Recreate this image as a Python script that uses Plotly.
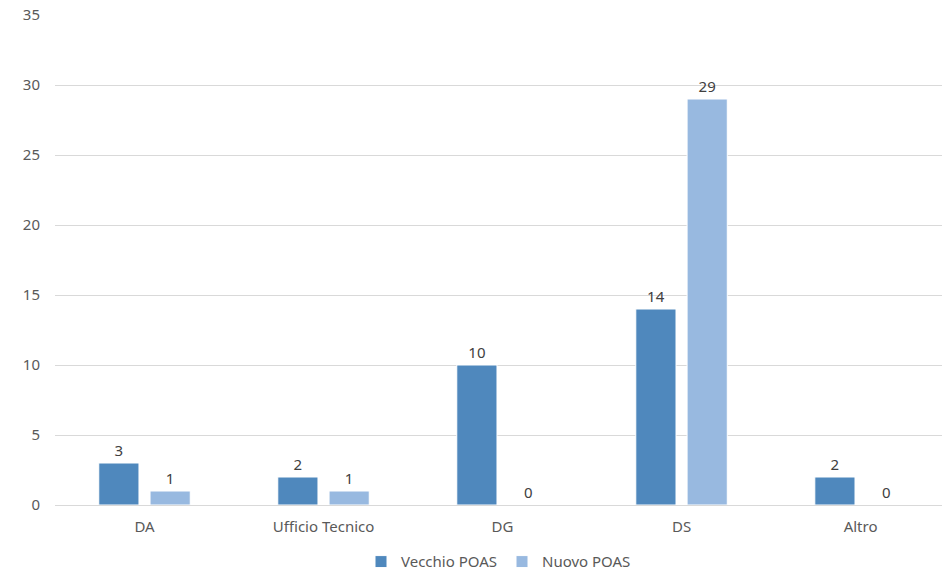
import plotly.graph_objects as go

categories = ["DA", "Ufficio Tecnico", "DG", "DS", "Altro"]
vecchio = [3, 2, 10, 14, 2]
nuovo = [1, 1, 0, 29, 0]
y_ticks = [0, 5, 10, 15, 20, 25, 30, 35]

font_family = "Noto Sans, Open Sans, Arial, sans-serif"
txt_color = "#595959"

fig = go.Figure()
fig.add_trace(go.Bar(
    x=categories, y=vecchio, name="Vecchio POAS",
    marker=dict(color="#4F88BD", line=dict(color="white", width=1)),
    text=vecchio, textposition="outside", cliponaxis=False,
    textfont=dict(size=15, color="#404040", family=font_family),
))
fig.add_trace(go.Bar(
    x=categories, y=nuovo, name="Nuovo POAS",
    marker=dict(color="#98B9E0", line=dict(color="white", width=1)),
    text=nuovo, textposition="outside", cliponaxis=False,
    textfont=dict(size=15, color="#404040", family=font_family),
))

fig.update_layout(
    width=942, height=574,
    margin=dict(l=55, r=0, t=15, b=69, autoexpand=False),
    plot_bgcolor="white", paper_bgcolor="white",
    barmode="group", bargap=0.427, bargroupgap=0.216,
    font=dict(family=font_family, size=15, color=txt_color),
    showlegend=True,
    legend=dict(orientation="h", x=0.5, xanchor="center", y=-0.116, yanchor="middle",
                font=dict(size=15, color=txt_color), itemwidth=30,
                traceorder="normal"),
    xaxis=dict(showgrid=False, showline=True, linecolor="#D9D9D9", linewidth=1,
               range=[-0.5, 4.455],
               ticks="", tickfont=dict(size=15, color=txt_color),
               ticklabelstandoff=8, automargin=False),
    yaxis=dict(range=[0, 35], tickvals=y_ticks, showgrid=True, gridcolor="#D9D9D9",
               gridwidth=1, zeroline=False, showline=False, ticks="",
               tickfont=dict(size=15, color=txt_color), ticklabelstandoff=14,
               automargin=False),
)

fig.write_html(
    "out.html",
    config={"displayModeBar": False},
    post_script="document.body.style.margin='0';document.body.style.overflow='hidden';",
)
